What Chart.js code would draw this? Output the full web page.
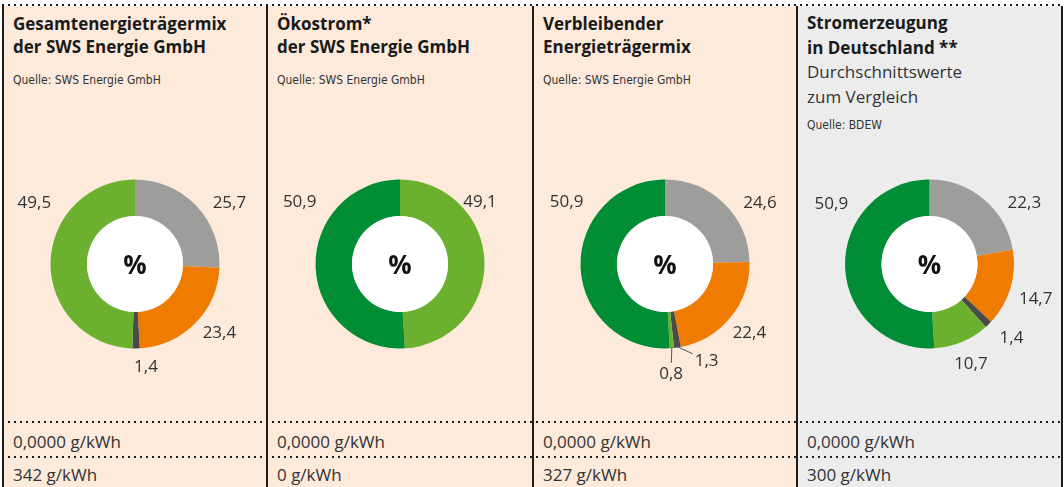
<!DOCTYPE html>
<html><head><meta charset="utf-8">
<script src="https://cdn.jsdelivr.net/npm/chart.js@4"></script>
<style>
html,body{margin:0;padding:0;background:#fff;}
#root{position:relative;width:1064px;height:487px;overflow:hidden;background:#fff;font-family:"Open Sans",sans-serif;}
.col{position:absolute;top:6px;bottom:0;}
.vline{position:absolute;top:6px;bottom:0;width:1.5px;background:#1d1d1b;}
.dots{position:absolute;left:2px;width:1062px;height:2px;background:repeating-linear-gradient(90deg,#1d1d1b 0 2px,transparent 2px 6px);}
.title{position:absolute;font-weight:700;font-size:17px;line-height:23px;color:#1a1a1a;white-space:nowrap;}
.title .sub{font-weight:400;color:#333;}
.src{position:absolute;font-family:"DejaVu Sans Condensed","DejaVu Sans",sans-serif;font-stretch:condensed;font-size:12px;line-height:14px;color:#333;white-space:nowrap;}
.row{position:absolute;font-size:17px;line-height:23px;color:#333;white-space:nowrap;}
canvas{position:absolute;}
</style></head>
<body><div id="root"></div>
<script>
// ---- data ----
const categories = ["Kohle", "Erdgas", "Kernkraft", "Erneuerbare Energien mit Herkunftsnachweis", "Erneuerbare Energien, finanziert aus der EEG-Umlage"];
const gesamtmix   = [25.7, 23.4, 1.4, 49.5, 0];
const oekostrom   = [0, 0, 0, 49.1, 50.9];
const verbleibend = [24.6, 22.4, 1.3, 0.8, 50.9];
const deutschland = [22.3, 14.7, 1.4, 10.7, 50.9];
const panelTitles = [["Gesamtenergieträgermix", "der SWS Energie GmbH"], ["Ökostrom*", "der SWS Energie GmbH"], ["Verbleibender", "Energieträgermix"], ["Stromerzeugung", "in Deutschland **"]];
const panelNotes = [[], [], [], ["Durchschnittswerte", "zum Vergleich"]];
const panelSources = ["Quelle: SWS Energie GmbH", "Quelle: SWS Energie GmbH", "Quelle: SWS Energie GmbH", "Quelle: BDEW"];
const radioactiveWaste = [0, 0, 0, 0];     // g/kWh
const co2Emissions = [342, 0, 327, 300];   // g/kWh
const centerLabel = "%";

// ---- styling / layout ----
const series = [gesamtmix, oekostrom, verbleibend, deutschland];
const segColors = ["#9d9d9c", "#ef7c00", "#4a4a49", "#6bb12f", "#008d36"];
const colEdges = [3, 267, 533, 797, 1062];
const colBg = ["#fdeadb", "#fdeadb", "#fdeadb", "#ececec"];
const outerR = 84.5, innerR = 48;
// label anchor: angle (deg, clockwise from top) and distance (x outer radius)
const labelLayout = [
  [{a:56.7,d:1.337},{a:128.7,d:1.28},{a:173.8,d:1.21},{a:301.7,d:1.40},null],
  [null,null,null,{a:51.8,d:1.205},{a:302,d:1.40}],
  [{a:57,d:1.34},{a:128.7,d:1.28},{a:156.6,d:1.24,leader:true},{a:176.8,d:1.29,leader:true},{a:302.5,d:1.38}],
  [{a:56.9,d:1.34},{a:107.8,d:1.32},{a:131.7,d:1.30},{a:157.3,d:1.27},{a:302,d:1.37}]
];
const fmt1 = v => v.toFixed(1).replace('.', ',');
const fmt4 = v => v.toFixed(4).replace('.', ',');

const root = document.getElementById('root');
function el(cls, css, html){ const d=document.createElement('div'); d.className=cls; Object.assign(d.style, css); if(html!==undefined) d.innerHTML=html; root.appendChild(d); return d; }

for (let i = 0; i < 4; i++) {
  const L = colEdges[i], W = colEdges[i+1] - colEdges[i];
  el('col', {left: L+'px', width: W+'px', background: colBg[i]});
}
[5, 422.3, 456.7].forEach(y => el('dots', {top: (y-1)+'px'}));
colEdges.forEach(x => el('vline', {left: (x-0.75)+'px'}));

for (let i = 0; i < 4; i++) {
  const L = colEdges[i], W = colEdges[i+1] - colEdges[i];
  const lines = panelTitles[i].concat(panelNotes[i].map(t => '<span class="sub">'+t+'</span>'));
  const lh = panelNotes[i].length ? 24.5 : 23;
  el('title', {left: (L+10)+'px', top: (panelNotes[i].length ? 11 : 12)+'px', lineHeight: lh+'px'}, lines.join('<br>'));
  el('src', {left: (L+10)+'px', top: (panelNotes[i].length ? 118.3 : 73.3)+'px'}, panelSources[i]);
  el('row', {left: (L+10)+'px', top: '429.6px'}, fmt4(radioactiveWaste[i]) + ' g/kWh');
  el('row', {left: (L+10)+'px', top: '463px'}, co2Emissions[i] + ' g/kWh');

  const cv = document.createElement('canvas');
  cv.width = W; cv.height = 250;
  cv.style.left = L+'px'; cv.style.top = '139px';
  cv.style.width = W+'px'; cv.style.height = '250px';
  root.appendChild(cv);

  const panelIdx = i;
  const decor = {
    id: 'decor',
    afterDatasetsDraw(chart) {
      const ctx = chart.ctx;
      const meta = chart.getDatasetMeta(0);
      const a0 = meta.data[0].getProps(['x','y','innerRadius','outerRadius'], true);
      const cx = a0.x, cy = a0.y;
      ctx.save();
      ctx.fillStyle = '#ffffff';
      ctx.beginPath(); ctx.arc(cx, cy, a0.innerRadius, 0, Math.PI*2); ctx.fill();
      ctx.fillStyle = '#111';
      ctx.font = '700 26px "Open Sans"';
      ctx.textAlign = 'center'; ctx.textBaseline = 'alphabetic';
      ctx.fillText(centerLabel, cx, cy + 0.714*26/2 + 1);
      // value labels
      ctx.font = '17px "Open Sans"';
      const vals = chart.data.datasets[0].data;
      meta.data.forEach((arc, k) => {
        const lay = labelLayout[panelIdx][k];
        if (!lay || !vals[k]) return;
        const p = arc.getProps(['x','y','startAngle','endAngle','outerRadius'], true);
        const R = p.outerRadius;
        const th = (lay.a - 90) * Math.PI/180;
        const lx = p.x + lay.d*R*Math.cos(th), ly = p.y + lay.d*R*Math.sin(th);
        const txt = fmt1(vals[k]);
        const tw = ctx.measureText(txt).width;
        ctx.fillStyle = '#333';
        ctx.fillText(txt, lx, ly + 0.714*17/2);
        if (lay.leader) {
          const mid = (p.startAngle + p.endAngle)/2;
          const sx = p.x + R*0.99*Math.cos(mid), sy = p.y + R*0.99*Math.sin(mid);
          const hw = tw/2 + 2, hh = 10;
          const dx = lx - sx, dy = ly - sy;
          const tx = Math.abs(dx) > 0.01 ? (Math.abs(dx) - hw)/Math.abs(dx) : -1;
          const ty = Math.abs(dy) > 0.01 ? (Math.abs(dy) - hh)/Math.abs(dy) : -1;
          const t = Math.max(tx, ty);
          ctx.strokeStyle = '#555'; ctx.lineWidth = 1;
          ctx.beginPath(); ctx.moveTo(sx, sy); ctx.lineTo(sx + dx*t, sy + dy*t); ctx.stroke();
        }
      });
      ctx.restore();
    }
  };

  new Chart(cv, {
    type: 'doughnut',
    data: {
      labels: categories,
      datasets: [{
        data: series[i],
        backgroundColor: segColors,
        borderWidth: 0,
        radius: outerR,
        cutout: (innerR / outerR * 100) + '%'
      }]
    },
    options: {
      responsive: false,
      animation: false,
      layout: {padding: 0},
      plugins: {legend: {display: false}, tooltip: {enabled: false}, title: {display: false}}
    },
    plugins: [decor]
  });
}
</script>
</body></html>
